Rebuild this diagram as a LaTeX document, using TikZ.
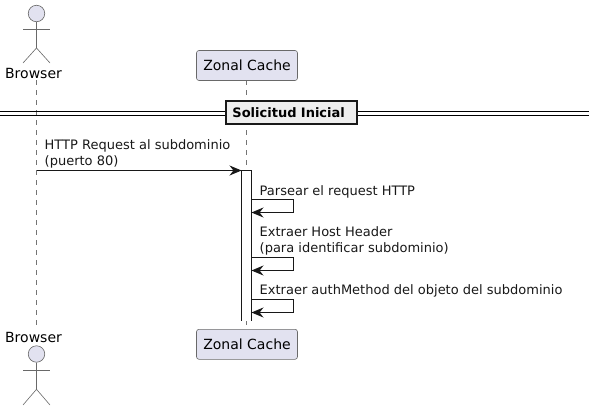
\documentclass[tikz,border=0pt]{standalone}
\usepackage{fontspec}
\setmainfont{DejaVu Sans}
\usetikzlibrary{arrows.meta}
\definecolor{lineink}{HTML}{181818}
\definecolor{partfill}{HTML}{E2E2F0}
\definecolor{groupfill}{HTML}{EEEEEE}
\tikzset{
  partbox/.style={draw=lineink!65, line width=0.6pt, fill=partfill, rounded corners=2.5pt, minimum width=101pt, minimum height=30pt, inner sep=0pt, font=\fontsize{14}{16}\selectfont},
  actorname/.style={inner sep=0pt, font=\fontsize{14}{16}\selectfont},
  actorhead/.style={circle, draw=lineink!65, line width=0.6pt, fill=partfill, minimum size=16.5pt, inner sep=0pt},
  actorline/.style={draw=lineink!65, line width=0.6pt},
  lifeline/.style={draw=lineink!60, line width=0.6pt, dash pattern=on 5pt off 5pt},
  msg/.style={draw=lineink, line width=0.9pt, -{Stealth[length=12pt, width=10pt, inset=4pt]}},
  msgtext/.style={anchor=west, align=left, inner sep=0pt, text=lineink, font=\fontsize{13}{15.8}\selectfont},
  divline/.style={draw=black, line width=1pt},
  divbox/.style={draw=black!90, line width=2pt, fill=groupfill, text width=118.7pt, align=left, inner xsep=6pt, minimum height=23pt, inner ysep=0pt, font=\fontsize{13}{15}\selectfont\bfseries},
}
\begin{document}
\begin{tikzpicture}[x=1pt, y=-1pt]
\useasboundingbox (0,0) rectangle (589,410);

% Lifelines
\coordinate (browsertop) at (36.5,80);
\coordinate (browserbot) at (36.5,327);
\coordinate (zonaltop) at (246.5,80);
\coordinate (zonalbot) at (246.5,329);
\draw[lifeline] (browsertop) -- (browserbot);
\draw[lifeline] (zonaltop) -- (zonalbot);

% Top participants
\node[actorhead] (headtop) at (36.5,13.5) {};
\coordinate (hiptop) at (36.5,48);
\coordinate (armLtop) at (23,29.3);
\coordinate (armRtop) at (50,29.3);
\coordinate (legLtop) at (23,63);
\coordinate (legRtop) at (50,63);
\draw[actorline] (headtop) -- (hiptop);
\draw[actorline] (armLtop) -- (armRtop);
\draw[actorline] (legLtop) -- (hiptop) -- (legRtop);
\node[actorname] (browserA) at (33.5,73) {Browser};
\node[partbox] (zonalA) at (247,65.5) {Zonal Cache};

% Bottom participants
\node[actorname] (browserB) at (33.5,337) {Browser};
\node[actorhead] (headbot) at (36.5,354) {};
\coordinate (hipbot) at (36.5,389.3);
\coordinate (armLbot) at (23,370.3);
\coordinate (armRbot) at (50,370.3);
\coordinate (legLbot) at (23,405);
\coordinate (legRbot) at (50,405);
\draw[actorline] (headbot) -- (hipbot);
\draw[actorline] (armLbot) -- (armRbot);
\draw[actorline] (legLbot) -- (hipbot) -- (legRbot);
\node[partbox] (zonalB) at (247,344.3) {Zonal Cache};

% Divider
\coordinate (divLa) at (0,111);
\coordinate (divLb) at (0,115);
\coordinate (divRa) at (589,111);
\coordinate (divRb) at (589,115);
\draw[divline] (divLa) -- (divRa);
\draw[divline] (divLb) -- (divRb);
\node[divbox] (divider) at (291.8,112.7) {Solicitud Inicial};

% Activation bar
\coordinate (barTL) at (241.5,170.5);
\coordinate (barTR) at (251.5,170.5);
\coordinate (barBL) at (241.5,320.7);
\coordinate (barBR) at (251.5,320.7);
\fill[white] (barTL) rectangle (barBR);
\draw[lineink, line width=0.9pt] (barBL) -- (barTL) -- (barTR) -- (barBR);

% Request
\coordinate (reqfrom) at (36.5,170.5);
\draw[msg] (reqfrom) -- (barTL);
\node[msgtext] (reqtext) at (44.5,154) {HTTP Request al subdominio\\(puerto 80)};

% Self messages
\coordinate (parseA) at (251.5,199.5);
\coordinate (parseB) at (293.5,199.5);
\coordinate (parseC) at (293.5,212.5);
\coordinate (parseD) at (251.5,212.5);
\draw[msg] (parseA) -- (parseB) -- (parseC) -- (parseD);
\node[msgtext] (parsetext) at (259.5,191.5) {Parsear el request HTTP};

\coordinate (hostA) at (251.5,257.5);
\coordinate (hostB) at (293.5,257.5);
\coordinate (hostC) at (293.5,270.5);
\coordinate (hostD) at (251.5,270.5);
\draw[msg] (hostA) -- (hostB) -- (hostC) -- (hostD);
\node[msgtext] (hosttext) at (259.5,241) {Extraer Host Header\\(para identificar subdominio)};

\coordinate (authA) at (251.5,299.5);
\coordinate (authB) at (293.5,299.5);
\coordinate (authC) at (293.5,312.5);
\coordinate (authD) at (251.5,312.5);
\draw[msg] (authA) -- (authB) -- (authC) -- (authD);
\node[msgtext] (authtext) at (259.5,290.5) {Extraer authMethod del objeto del subdominio};
\end{tikzpicture}
\end{document}
